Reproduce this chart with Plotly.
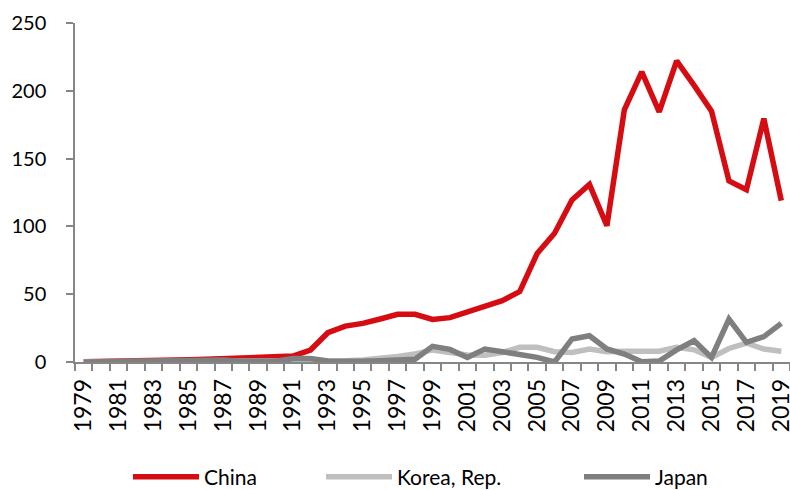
import plotly.graph_objects as go

years = list(range(1979, 2020))
china = [0.2, 0.3, 0.5, 0.7, 1.0, 1.3, 1.6, 2.0, 2.4, 2.8, 3.2, 3.3, 4.4, 8.8,
         21.6, 26.5, 28.5, 31.7, 35.2, 35.2, 31.4, 32.7, 36.6, 41.3, 45.2, 51.9,
         80.0, 95.0, 119.5, 131.0, 100.5, 186.0, 214.0, 184.5, 222.0, 204.0,
         185.0, 133.5, 127.0, 179.5, 119.0]
korea = [0.2, 0.2, 0.2, 0.3, 0.3, 0.3, 0.4, 0.5, 0.6, 0.7, 0.7, 0.8, 0.8, 0.6,
         0.5, 1.0, 1.5, 2.5, 4.0, 6.0, 8.9, 6.9, 5.2, 5.0, 7.0, 10.8,
         10.8, 7.6, 7.0, 9.6, 7.6, 8.0, 8.0, 8.0, 10.8, 9.0,
         3.4, 10.0, 14.0, 9.6, 8.0]
japan = [0.0, 0.1, 0.2, 0.3, 0.4, 0.5, 0.7, 1.0, 1.5, 0.5, 0.0, 0.5, 2.5, 2.5,
         0.8, 0.5, 0.5, 1.0, 2.0, 2.0, 11.5, 9.3, 3.4, 9.6, 7.6, 5.9,
         3.4, 0.0, 17.0, 19.4, 9.6, 5.9, 0.2, 0.7, 8.9, 15.7,
         3.4, 31.7, 14.5, 18.7, 28.5]

tick_years = [y for y in years if y % 2 == 1]

series = [("China", china, "#d50d12", "legend"),
          ("Korea, Rep.", korea, "#bfbfbf", "legend2"),
          ("Japan", japan, "#7f7f7f", "legend3")]

fig = go.Figure()
for name, vals, col, lg in series:
    fig.add_trace(go.Scatter(x=years, y=vals, name=name, mode="lines", legend=lg,
                             line=dict(color=col, width=5.5)))

W, H = 790, 490
def leg(px):
    return dict(orientation="h", xref="container", yref="container",
                x=px / W, xanchor="left", y=13 / H, yanchor="middle",
                font=dict(family="Lato, sans-serif", size=21, color="black"),
                itemwidth=66, bgcolor="rgba(0,0,0,0)")

fig.update_layout(
    width=W, height=H,
    margin=dict(l=75, r=0, t=23, b=128, autoexpand=False),
    plot_bgcolor="white", paper_bgcolor="white",
    font=dict(family="Lato, sans-serif", size=20, color="black"),
    showlegend=True,
    legend=leg(128), legend2=leg(321), legend3=leg(579),
    xaxis=dict(range=[1978.5, 2019.5], tickvals=tick_years, ticktext=[str(y) for y in tick_years],
               tickangle=-90, ticks="", showgrid=False, zeroline=False, automargin=False,
               showline=True, linecolor="#868686", linewidth=1.5,
               ticklabeloverflow="allow", ticklabelstandoff=6,
               tickfont=dict(family="Lato, sans-serif", size=23),
               minor=dict(tick0=1978.5, dtick=1, ticks="outside", ticklen=7,
                          tickcolor="#868686", tickwidth=1.5, showgrid=False)),
    yaxis=dict(range=[0, 250], tickvals=[0, 50, 100, 150, 200, 250], showgrid=False,
               zeroline=False, showline=True, linecolor="#868686", linewidth=1.5,
               automargin=False,
               ticks="outside", ticklen=7, tickcolor="#868686", tickwidth=1.5,
               ticklabelstandoff=16, tickfont=dict(size=20)),
)

fig.write_html("out.html")
